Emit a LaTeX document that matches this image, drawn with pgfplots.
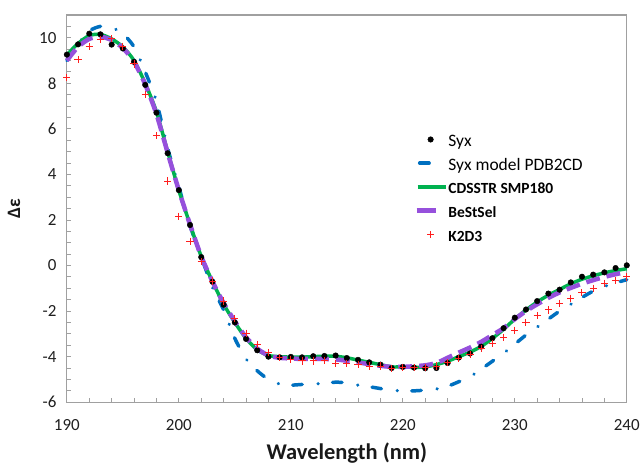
\documentclass[border=0pt]{standalone}
\usepackage{fontspec}
\setmainfont{Carlito}
\usepackage{pgfplots}
\usepackage{pgfplotstable}
\pgfplotsset{compat=1.18}
\definecolor{axgray}{RGB}{160,160,160}
\definecolor{pblue}{RGB}{0,112,192}
\definecolor{pgreen}{RGB}{0,178,80}
\definecolor{ppurple}{RGB}{150,80,220}
\definecolor{pred}{RGB}{255,30,30}

\pgfplotstableread{
x y
190 9.26
191 9.71
192 10.18
193 10.15
194 9.70
195 9.53
196 8.94
197 7.93
198 6.71
199 4.93
200 3.31
201 1.78
202 0.37
203 -0.71
204 -1.72
205 -2.50
206 -3.22
207 -3.72
208 -4.00
209 -4.03
210 -4.01
211 -4.03
212 -3.98
213 -3.97
214 -3.95
215 -4.06
216 -4.14
217 -4.25
218 -4.35
219 -4.50
220 -4.45
221 -4.48
222 -4.51
223 -4.50
224 -4.28
225 -4.04
226 -3.86
227 -3.56
228 -3.19
229 -2.75
230 -2.29
231 -1.93
232 -1.56
233 -1.23
234 -1.06
235 -0.74
236 -0.49
237 -0.40
238 -0.30
239 -0.11
240 0.01
}\syx

\pgfplotstableread{
x y
190 9.00
191 9.72
192 10.30
193 10.50
194 10.45
195 10.18
196 9.60
197 8.50
198 7.20
199 5.15
200 3.45
201 1.75
202 0.38
203 -0.95
204 -1.95
205 -3.20
206 -4.10
207 -4.62
208 -5.00
209 -5.20
210 -5.25
211 -5.22
212 -5.20
213 -5.17
214 -5.12
215 -5.15
216 -5.25
217 -5.32
218 -5.40
219 -5.48
220 -5.50
221 -5.50
222 -5.47
223 -5.42
224 -5.30
225 -5.10
226 -4.88
227 -4.55
228 -4.20
229 -3.85
230 -3.45
231 -3.05
232 -2.70
233 -2.35
234 -2.00
235 -1.70
236 -1.40
237 -1.12
238 -0.92
239 -0.76
240 -0.62
}\model

\pgfplotstableread{
x y
190 9.25
191 9.75
192 10.10
193 10.15
194 9.95
195 9.60
196 9.00
197 8.00
198 6.75
199 5.00
200 3.30
201 1.80
202 0.40
203 -0.70
204 -1.70
205 -2.50
206 -3.20
207 -3.70
208 -3.95
209 -4.00
210 -4.02
211 -4.02
212 -4.00
213 -3.98
214 -3.98
215 -4.05
216 -4.15
217 -4.25
218 -4.35
219 -4.45
220 -4.45
221 -4.47
222 -4.45
223 -4.35
224 -4.20
225 -4.00
226 -3.80
227 -3.55
228 -3.20
229 -2.80
230 -2.35
231 -1.95
232 -1.60
233 -1.30
234 -1.05
235 -0.80
236 -0.60
237 -0.45
238 -0.32
239 -0.22
240 -0.14
}\cdsstr

\pgfplotstableread{
x y
190 9.00
191 9.60
192 9.95
193 10.05
194 9.90
195 9.55
196 8.95
197 7.95
198 6.65
199 4.95
200 3.30
201 1.80
202 0.40
203 -0.70
204 -1.65
205 -2.45
206 -3.15
207 -3.65
208 -3.95
209 -4.05
210 -4.08
211 -4.10
212 -4.10
213 -4.10
214 -4.12
215 -4.18
216 -4.25
217 -4.33
218 -4.40
219 -4.45
220 -4.45
221 -4.42
222 -4.38
223 -4.28
224 -4.05
225 -3.82
226 -3.60
227 -3.35
228 -3.05
229 -2.75
230 -2.35
231 -2.00
232 -1.70
233 -1.42
234 -1.18
235 -0.98
236 -0.80
237 -0.64
238 -0.50
239 -0.38
240 -0.28
}\bestsel

\pgfplotstableread{
x y
190 8.27
191 9.04
192 9.63
193 9.92
194 9.95
195 9.63
196 8.85
197 7.51
198 5.70
199 3.71
200 2.17
201 1.07
202 0.18
203 -0.68
204 -1.56
205 -2.32
206 -2.97
207 -3.46
208 -3.82
209 -4.04
210 -4.11
211 -4.19
212 -4.19
213 -4.18
214 -4.29
215 -4.29
216 -4.33
217 -4.41
218 -4.41
219 -4.51
220 -4.48
221 -4.48
222 -4.48
223 -4.41
224 -4.26
225 -4.08
226 -3.89
227 -3.64
228 -3.43
229 -3.16
230 -2.84
231 -2.50
232 -2.21
233 -1.95
234 -1.67
235 -1.43
236 -1.19
237 -0.99
238 -0.78
239 -0.64
240 -0.50
}\kdd

\begin{document}
\begin{tikzpicture}
\begin{axis}[
  scale only axis, width=561pt, height=388pt,
  xmin=190, xmax=240, ymin=-6, ymax=11,
  xtick={190,200,...,240}, ytick={-6,-4,...,10},
  minor xtick={190,192,...,240}, minor ytick={-6,-5.5,...,11},
  xtick pos=left, ytick pos=left, tick align=inside,
  major tick length=4.5pt, minor tick length=4.5pt,
  axis line style={axgray, line width=1.1pt},
  every tick/.style={axgray, line width=0.9pt},
  every minor tick/.style={axgray, line width=0.9pt},
  /pgf/number format/assume math mode=true,
  ticklabel style={font=\fontsize{17}{19}\selectfont, text=black!88},
  yticklabel style={xshift=-7pt},
  xticklabel style={yshift=-14pt},
  xlabel={\bfseries Wavelength (nm)},
  ylabel={\bfseries Δε},
  xlabel style={font=\fontsize{22.5}{25}\selectfont, text=black!90, yshift=-5pt},
  ylabel style={font=\fontsize{19}{21}\selectfont, text=black!90, yshift=12pt},
  clip=false,
  legend style={draw=none, fill=none, at={(rel axis cs:0.615,0.697)}, anchor=north west,
    row sep=7.75pt, nodes={inner sep=1pt, text height=11pt, text depth=3pt}},
  legend cell align=left,
]
\addplot[forget plot, pblue, line width=3.5pt, line cap=round, smooth, tension=0.4,
  dash pattern=on 9.5pt off 16pt on 0.01pt off 14.5pt] table[x=x,y=y]{\model};
\addplot[forget plot, pgreen, line width=3.5pt, smooth, tension=0.4] table[x=x,y=y]{\cdsstr};
\addplot[forget plot, ppurple, line width=4.5pt, smooth, tension=0.4,
  dash pattern=on 14pt off 7pt] table[x=x,y=y]{\bestsel};
\addplot[forget plot, only marks, mark=*, mark size=2.8pt, mark options={fill=black, draw=black}] table[x=x,y=y]{\syx};
\addplot[forget plot, only marks, mark=+, mark size=3.6pt, mark options={pred, line width=1pt}] table[x=x,y=y]{\kdd};

\addlegendimage{legend image code/.code={\fill[black] (14pt,0.3em) circle (2.8pt);}}
\addlegendimage{legend image code/.code={\draw[pblue, line width=3.5pt, line cap=round] (3pt,0.3em) -- (12.5pt,0.3em);}}
\addlegendimage{legend image code/.code={\draw[pgreen, line width=3.5pt] (1pt,0.3em) -- (29pt,0.3em);}}
\addlegendimage{legend image code/.code={\draw[ppurple, line width=4.5pt] (0pt,0.3em) -- (19pt,0.3em);}}
\addlegendimage{legend image code/.code={\draw[pred, line width=1pt] (10.4pt,0.3em) -- (17.6pt,0.3em) (14pt,0.3em-3.6pt) -- (14pt,0.3em+3.6pt);}}
\legend{{\fontsize{17.5}{19}\selectfont Syx},
        {\fontsize{17.5}{19}\selectfont Syx model PDB2CD},
        {\fontsize{15.5}{17}\selectfont\bfseries CDSSTR SMP180},
        {\fontsize{15.5}{17}\selectfont\bfseries BeStSel},
        {\fontsize{15.5}{17}\selectfont\bfseries K2D3}}
\end{axis}
\path[use as bounding box] (-67pt,-60pt) rectangle (576pt,403pt);
\end{tikzpicture}
\end{document}
